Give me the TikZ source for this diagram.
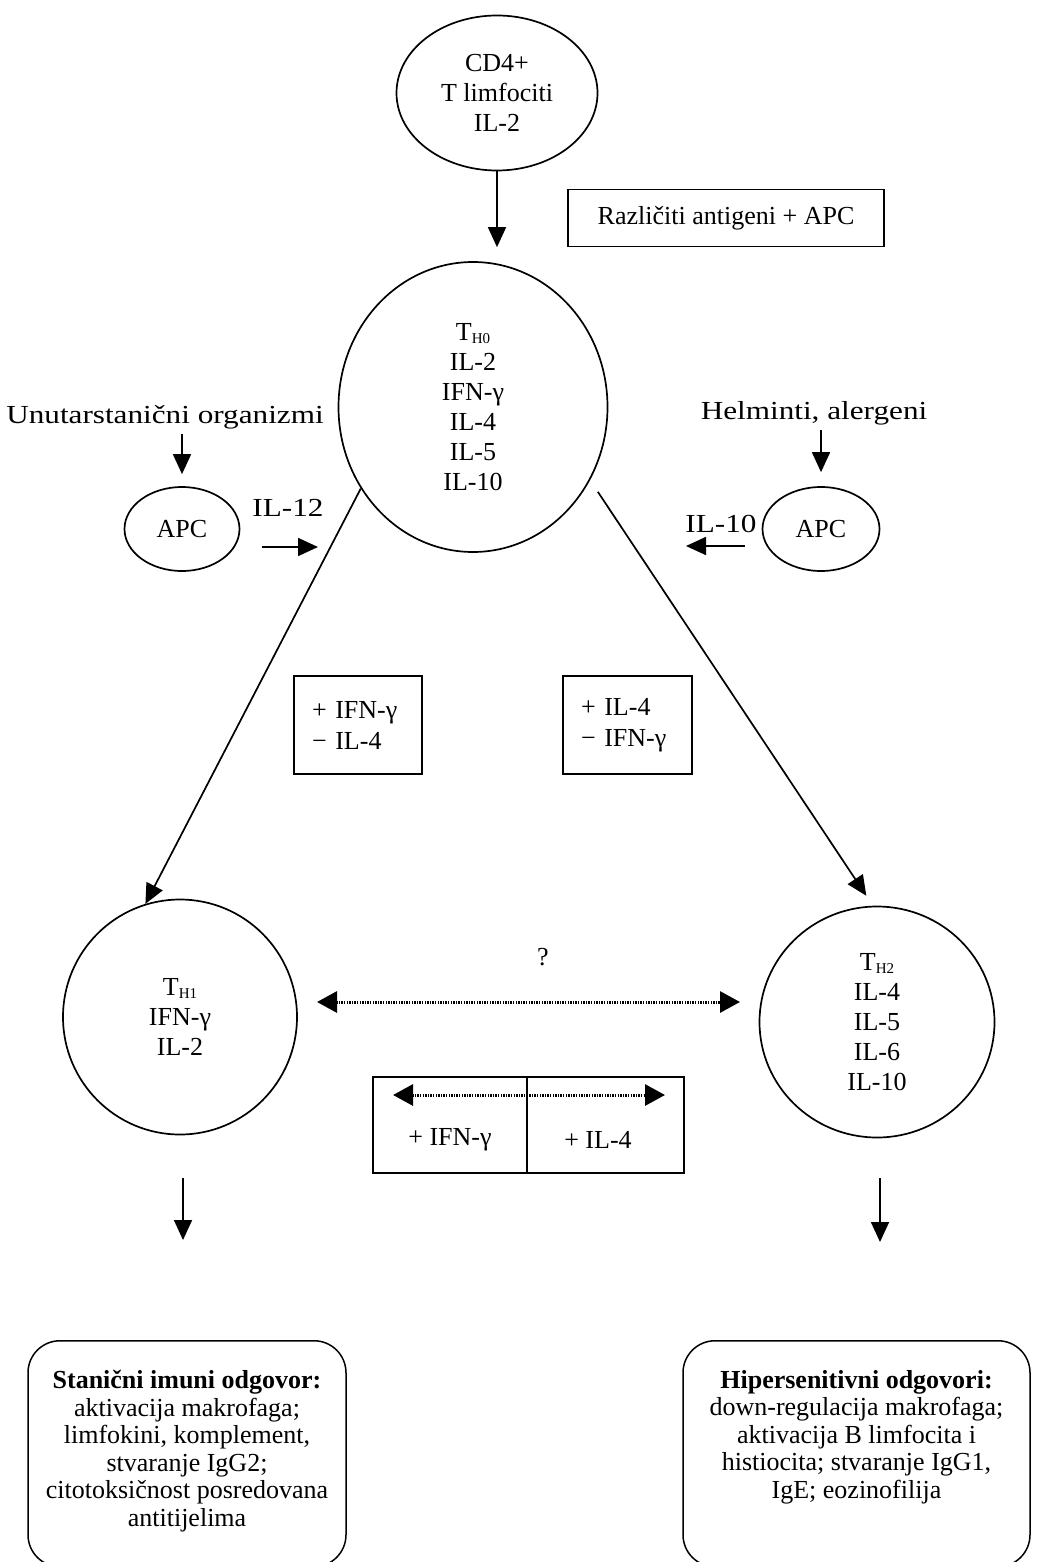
\documentclass[tikz,border=0pt]{standalone}
\usepackage{fontspec}
\setmainfont{Liberation Serif}
\newfontfamily\widefont[FakeStretch=1.2]{Liberation Serif}
\usetikzlibrary{shapes.geometric,arrows.meta}
\newcommand\thsub[1]{\raisebox{-3pt}{\fontsize{15}{15}\selectfont #1}}
\begin{document}
\begin{tikzpicture}[x=1pt,y=-1pt,
  txt/.style={font=\fontsize{26}{30}\selectfont, align=center, inner sep=0pt},
  wtxt/.style={font=\widefont\fontsize{26}{30}\selectfont, align=center, inner sep=0pt},
  cell/.style={draw, ellipse, line width=1.7pt, inner sep=0pt, font=\fontsize{26}{30}\selectfont, align=center},
  box/.style={draw, rectangle, line width=1.5pt, inner sep=0pt},
  resbox/.style={draw, rectangle, rounded corners=32pt, line width=1.5pt, inner sep=0pt, anchor=north},
  arr/.style={line width=1.7pt, -{Triangle[length=20pt,width=18pt]}},
  darr/.style={line width=3pt, dash pattern=on 1.4pt off 1.2pt, {Triangle[length=20pt,width=21pt]}-{Triangle[length=20pt,width=21pt]}},
]
\useasboundingbox (0,0) rectangle (1045,1562);
\fill[white] (0,0) rectangle (1045,1562);

% top
\node[cell, minimum width=201pt, minimum height=155pt] (cd4) at (497,93) {CD4+\\T limfociti\\IL-2};
\node[box, minimum width=316pt, minimum height=57pt, font=\fontsize{26}{30}\selectfont] (antig) at (726,218) {Različiti antigeni + APC};
\node[cell, minimum width=269pt, minimum height=290pt] (th0) at (473,407) {T\thsub{H0}\\IL-2\\IFN-γ\\IL-4\\IL-5\\IL-10};
\draw[arr, shorten >=14pt] (cd4.south) -- (cd4.south |- th0.north);

% left side input
\node[wtxt] (unut) at (165,417) {Unutarstanični organizmi};
\node[cell, minimum width=115pt, minimum height=84pt] (apcL) at (182,529) {APC};
\draw[arr, shorten <=5pt, shorten >=12pt] (unut.south -| apcL.north) -- (apcL.north);
\node[wtxt] (il12) at (288,508) {IL-12};
\coordinate (il12a) at (262,547);
\coordinate (il12b) at (318,547);
\draw[arr] (il12a) -- (il12b);

% right side input
\node[wtxt] (helm) at (814,413) {Helminti, alergeni};
\node[cell, minimum width=117pt, minimum height=84pt] (apcR) at (821,529) {APC};
\draw[arr, shorten <=5pt, shorten >=14pt] (helm.south -| apcR.north) -- (apcR.north);
\node[wtxt] (il10) at (721,524) {IL-10};
\coordinate (il10a) at (745,546);
\coordinate (il10b) at (686,546);
\draw[arr] (il10a) -- (il10b);

% condition boxes
\node[box, minimum width=128pt, minimum height=98pt, text width=92pt, align=left, inner xsep=18pt, font=\fontsize{26}{31}\selectfont] (condL) at (358,725) {+ IFN-γ\\− IL-4};
\node[box, minimum width=129pt, minimum height=98pt, text width=93pt, align=left, inner xsep=18pt, font=\fontsize{26}{31}\selectfont] (condR) at (627.5,725) {+ IL-4\\− IFN-γ};

% TH1 / TH2
\node[cell, minimum width=234pt, minimum height=235pt] (th1) at (180,1017) {T\thsub{H1}\\IFN-γ\\IL-2};
\node[cell, minimum width=235pt, minimum height=231pt] (th2) at (877,1022) {T\thsub{H2}\\IL-4\\IL-5\\IL-6\\IL-10};

\draw[arr] (th0.216) -- (th1.107);
\draw[arr, shorten <=14pt, shorten >=12pt] (th0.328) -- (th2.92);

% cross regulation
\node[txt] (q) at (543,957) {?};
\coordinate (dA) at (317,1002);
\coordinate (dB) at (740,1002);
\draw[darr] (dA) -- (dB);

\node[box, minimum width=311pt, minimum height=96pt] (mid) at (528.5,1125) {};
\coordinate (midtop) at (527,1077);
\coordinate (midbot) at (527,1173);
\draw[line width=1.5pt] (midtop) -- (midbot);
\coordinate (mA) at (393,1095);
\coordinate (mB) at (665,1095);
\draw[darr] (mA) -- (mB);
\node[txt] (mL) at (450,1140) {+ IFN-γ};
\node[txt] (mR) at (598,1140) {+ IL-4};

% down arrows
\coordinate (dl1) at (183,1178);
\coordinate (dl2) at (183,1240);
\coordinate (dr1) at (880,1178);
\coordinate (dr2) at (880,1242);
\draw[arr] (dl1) -- (dl2);
\draw[arr] (dr1) -- (dr2);

% result boxes
\node[resbox, minimum width=318pt, minimum height=226pt] (resL) at (187,1340) {};
\node[resbox, minimum width=347pt, minimum height=226pt] (resR) at (856.5,1340) {};
\node[txt, font=\fontsize{26}{27.5}\selectfont, anchor=north] (resLt) at (187,1370) {\textbf{Stanični imuni odgovor:}\\aktivacija makrofaga;\\limfokini, komplement,\\stvaranje IgG2;\\citotoksičnost posredovana\\antitijelima};
\node[txt, font=\fontsize{26}{27.5}\selectfont, anchor=north] (resRt) at (856.5,1370) {\textbf{Hipersenitivni odgovori:}\\down-regulacija makrofaga;\\aktivacija B limfocita i\\histiocita; stvaranje IgG1,\\IgE; eozinofilija};
\end{tikzpicture}
\end{document}
